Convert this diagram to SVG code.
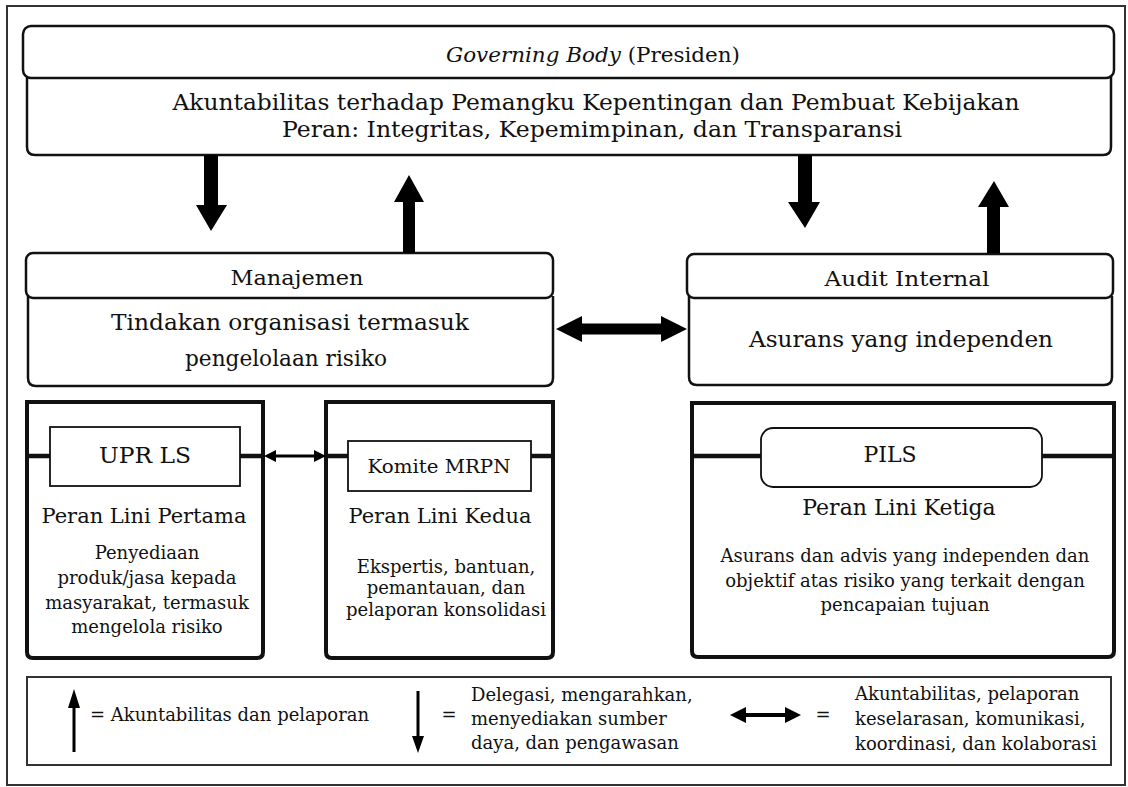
<svg xmlns="http://www.w3.org/2000/svg" width="1128" height="787" viewBox="0 0 1128 787">
<defs>
<style>
text{font-family:"DejaVu Serif","Liberation Serif",serif;fill:#111;text-anchor:middle}
.t21{font-size:21px}
.t22{font-size:22px}
.t20{font-size:20px}
.t18{font-size:18px}
.tl{text-anchor:start}
.box{fill:#fff;stroke:#111;stroke-width:2.5}
.lbox{fill:#fff;stroke:#111;stroke-width:4}
.lab{fill:#fff;stroke:#111;stroke-width:1.8}
.bar{stroke:#111;stroke-width:4.5}
.arr{fill:#000}
</style>
</defs>
<rect x="0" y="0" width="1128" height="787" fill="#fff"/>
<rect x="7" y="6" width="1118" height="779" fill="none" stroke="#333" stroke-width="2"/>

<g id="governing-body">
<path class="box" d="M27 76 V147 Q27 155 35 155 H1103 Q1111 155 1111 147 V76"/>
<rect class="box" x="23" y="26" width="1091" height="52" rx="8"/>
<text class="t20" x="593" y="62" textLength="294" lengthAdjust="spacingAndGlyphs"><tspan font-style="italic">Governing Body</tspan> (Presiden)</text>
<text class="t22" x="596" y="110" textLength="847" lengthAdjust="spacingAndGlyphs">Akuntabilitas terhadap Pemangku Kepentingan dan Pembuat Kebijakan</text>
<text class="t22" x="592" y="137" textLength="620" lengthAdjust="spacingAndGlyphs">Peran: Integritas, Kepemimpinan, dan Transparansi</text>
</g>

<g id="manajemen">
<path class="box" d="M28 296 V378 Q28 386 36 386 H545 Q553 386 553 378 V296"/>
<rect class="box" x="26" y="253" width="527" height="45" rx="7"/>
<text class="t21" x="297" y="285" textLength="133" lengthAdjust="spacingAndGlyphs">Manajemen</text>
<text class="t22" x="290" y="330" textLength="358" lengthAdjust="spacingAndGlyphs">Tindakan organisasi termasuk</text>
<text class="t22" x="286" y="366" textLength="202" lengthAdjust="spacingAndGlyphs">pengelolaan risiko</text>
</g>

<g id="audit-internal">
<path class="box" d="M689 296 V377 Q689 385 697 385 H1104 Q1112 385 1112 377 V296"/>
<rect class="box" x="687" y="254" width="426" height="44" rx="7"/>
<text class="t21" x="907" y="286" textLength="165" lengthAdjust="spacingAndGlyphs">Audit Internal</text>
<text class="t22" x="901" y="347" textLength="304" lengthAdjust="spacingAndGlyphs">Asurans yang independen</text>
</g>

<g id="upr-ls">
<path class="lbox" d="M27 402 H263 V652 Q263 658 257 658 H33 Q27 658 27 652 Z"/>
<line class="bar" x1="27" y1="456" x2="263" y2="456"/>
<rect class="lab" x="50" y="427" width="190" height="59"/>
<text class="t22" x="145" y="463" textLength="92" lengthAdjust="spacingAndGlyphs">UPR LS</text>
<text class="t21" x="144" y="523">Peran Lini Pertama</text>
<text class="t18" x="147" y="559">Penyediaan</text>
<text class="t18" x="147" y="584">produk/jasa kepada</text>
<text class="t18" x="147" y="609">masyarakat, termasuk</text>
<text class="t18" x="147" y="633">mengelola risiko</text>
</g>

<g id="komite-mrpn">
<path class="lbox" d="M326 402 H553 V652 Q553 658 547 658 H332 Q326 658 326 652 Z"/>
<line class="bar" x1="326" y1="456" x2="553" y2="456"/>
<rect class="lab" x="348" y="441" width="183" height="50"/>
<text class="t18" x="439" y="473" textLength="143" lengthAdjust="spacingAndGlyphs">Komite MRPN</text>
<text class="t21" x="440" y="523">Peran Lini Kedua</text>
<text class="t18" x="446" y="573">Ekspertis, bantuan,</text>
<text class="t18" x="446" y="594">pemantauan, dan</text>
<text class="t18" x="446" y="616">pelaporan konsolidasi</text>
</g>

<g id="pils">
<path class="lbox" d="M692 403 H1114 V651 Q1114 657 1108 657 H698 Q692 657 692 651 Z"/>
<line class="bar" x1="692" y1="456" x2="1114" y2="456"/>
<rect class="lab" x="761" y="428" width="281" height="59" rx="12"/>
<text class="t22" x="890" y="462">PILS</text>
<text class="t22" x="899" y="515">Peran Lini Ketiga</text>
<text class="t18" x="905" y="562">Asurans dan advis yang independen dan</text>
<text class="t18" x="905" y="587">objektif atas risiko yang terkait dengan</text>
<text class="t18" x="905" y="611">pencapaian tujuan</text>
</g>

<g id="connectors">
<polygon class="arr" points="204,155 218,155 218,205 227,205 211,231 196,205 204,205"/>
<polygon class="arr" points="403,253 415,253 415,202 424,202 409,175 394,202 403,202"/>
<polygon class="arr" points="798,155 812,155 812,202 820,202 805,228 788,202 798,202"/>
<polygon class="arr" points="987,253 1000,253 1000,207 1009,207 994,181 978,207 987,207"/>
<polygon class="arr" points="556,329 582,316 582,323.5 661,323.5 661,316 687,329 661,342 661,334.5 582,334.5 582,342"/>
<polygon class="arr" points="264,456 276,450 276,454.5 314,454.5 314,450 326,456 314,462 314,457.5 276,457.5 276,462"/>
</g>

<g id="legend">
<rect x="27" y="677" width="1084" height="88" fill="#fff" stroke="#333" stroke-width="2"/>
<polygon class="arr" points="72.5,752 75.5,752 75.5,708 80,708 74,689 68,708 72.5,708"/>
<text class="t18 tl" x="90" y="721">= Akuntabilitas dan pelaporan</text>
<polygon class="arr" points="416.5,691 419.5,691 419.5,736 424,736 418,753 412,736 416.5,736"/>
<text class="t18" x="449" y="721">=</text>
<text class="t18 tl" x="471" y="701">Delegasi, mengarahkan,</text>
<text class="t18 tl" x="471" y="725">menyediakan sumber</text>
<text class="t18 tl" x="471" y="749">daya, dan pengawasan</text>
<polygon class="arr" points="730,715 746,707 746,713 785,713 785,707 801,715 785,723 785,717 746,717 746,723"/>
<text class="t18" x="823" y="721">=</text>
<text class="t18 tl" x="855" y="700">Akuntabilitas, pelaporan</text>
<text class="t18 tl" x="855" y="725">keselarasan, komunikasi,</text>
<text class="t18 tl" x="855" y="750">koordinasi, dan kolaborasi</text>
</g>
</svg>
